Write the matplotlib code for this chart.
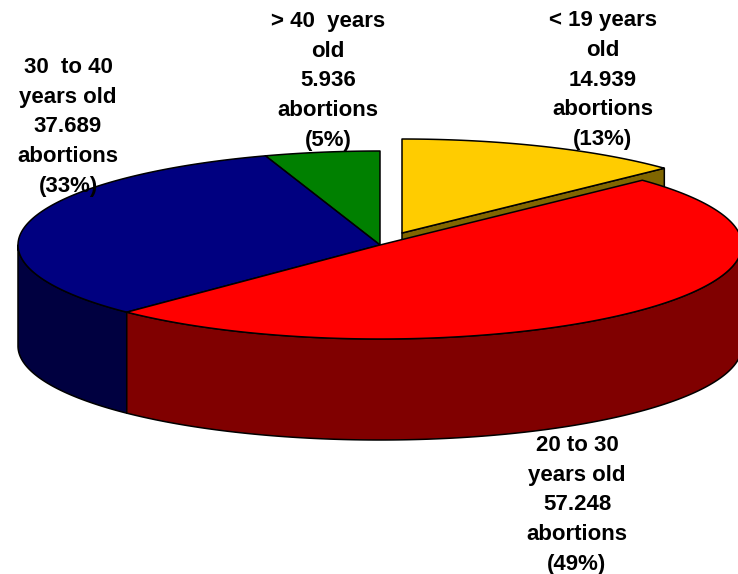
import numpy as np
import matplotlib
matplotlib.use("Agg")
import matplotlib.pyplot as plt

# slices, clockwise from 12 o'clock
groups = ['< 19 years\nold', '20 to 30\nyears old', '30  to 40\nyears old', '> 40  years\nold']
counts = [14939, 57248, 37689, 5936]
count_labels = ['14.939', '57.248', '37.689', '5.936']
pct_labels = ['(13%)', '(49%)', '(33%)', '(5%)']
top_colors = ['#FFCC00', '#FF0000', '#000080', '#008000']
side_colors = ['#806600', '#800000', '#000040', '#004000']

cx, cy = 380, 245
rx, ry = 362, 94
depth = 101
line_w = 1.1

edges = np.concatenate([[0], np.cumsum(counts)]) / np.sum(counts) * 360


def arc(a, b, x0, y0):
    t = np.radians(np.linspace(a, b, 200))
    return x0 + rx * np.sin(t), y0 - ry * np.cos(t)


def draw_top(a, b, x0, y0, color, z):
    x, y = arc(a, b, x0, y0)
    ax.fill(np.r_[x0, x], np.r_[y0, y], facecolor=color, edgecolor='black',
            linewidth=line_w, joinstyle='round', zorder=z)


def draw_wall(a, b, x0, y0, color, z):
    x, y = arc(a, b, x0, y0)
    ax.fill(np.r_[x, x[::-1]], np.r_[y, y[::-1] + depth], facecolor=color,
            edgecolor='black', linewidth=line_w, joinstyle='round', zorder=z)


fig = plt.figure(figsize=(7.38, 5.74), dpi=100)
ax = fig.add_axes([0, 0, 1, 1])
ax.set_xlim(0, 738)
ax.set_ylim(574, 0)
ax.axis('off')

# exploded yellow slice, its cut face is mostly hidden by the red top
ex, ey = cx + 22, cy - 12
tip_x, tip_y = arc(edges[1], edges[1], ex, ey)
ax.fill([ex, tip_x[0], tip_x[0], ex], [ey, tip_y[0], tip_y[0] + depth, ey + depth],
        facecolor=side_colors[0], edgecolor='black', linewidth=line_w, zorder=1)
draw_top(edges[0], edges[1], ex, ey, top_colors[0], 2)

draw_top(edges[3], edges[4], cx, cy, top_colors[3], 3)
draw_wall(edges[2], 270, cx, cy, side_colors[2], 4)
draw_top(edges[2], edges[3], cx, cy, top_colors[2], 5)
draw_wall(90, edges[2], cx, cy, side_colors[1], 6)
draw_top(edges[1], edges[2], cx, cy, top_colors[1], 7)

label_pos = [(603, 80), (577, 505), (68, 127), (328, 81)]
for g, c, p, (lx, ly) in zip(groups, count_labels, pct_labels, label_pos):
    ax.text(lx, ly, g + '\n' + c + '\nabortions\n' + p, ha='center', va='center',
            ma='center', fontsize=16, fontweight='bold', family='Liberation Sans',
            linespacing=1.54, color='black', zorder=10)

fig.savefig('out.png', dpi=100)
